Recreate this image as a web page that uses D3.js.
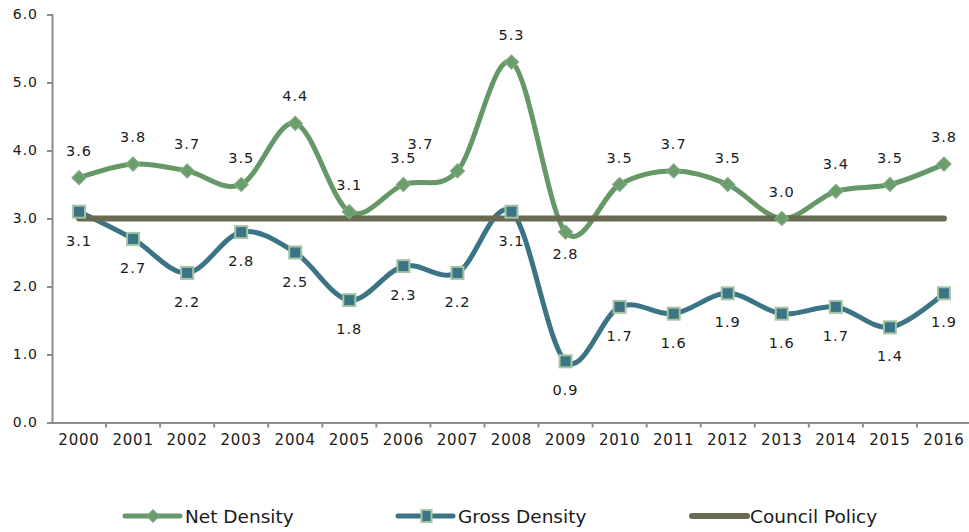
<!DOCTYPE html>
<html>
<head>
<meta charset="utf-8">
<script src="https://cdn.jsdelivr.net/npm/d3@7"></script>
<style>
  html, body { margin: 0; padding: 0; background: #ffffff; }
  svg { display: block; }
  .tick text { font-family: "DejaVu Sans", Verdana, sans-serif; }
</style>
</head>
<body>
<svg id="chart" width="969" height="532"></svg>
<script>
// Density per year (dwellings per hectare style measures)
const years = ["2000","2001","2002","2003","2004","2005","2006","2007","2008",
               "2009","2010","2011","2012","2013","2014","2015","2016"];
const netDensity   = [3.6, 3.8, 3.7, 3.5, 4.4, 3.1, 3.5, 3.7, 5.3, 2.8, 3.5, 3.7, 3.5, 3.0, 3.4, 3.5, 3.8];
const grossDensity = [3.1, 2.7, 2.2, 2.8, 2.5, 1.8, 2.3, 2.2, 3.1, 0.9, 1.7, 1.6, 1.9, 1.6, 1.7, 1.4, 1.9];
const councilPolicy = 3.0;
const yTicks = [0, 1, 2, 3, 4, 5, 6];

const seriesNames = ["Net Density", "Gross Density", "Council Policy"];

const colors = {
  net: "#659767", netMarker: "#6c9d6d", netMarkerEdge: "#80ab80",
  gross: "#3b7484", grossMarker: "#3a7485", grossMarkerEdge: "#a4c4a2",
  policy: "#686a52", axis: "#8c8c8c", text: "#1a1a1a"
};

const svg = d3.select("#chart");
const plot = { left: 52, right: 971, top: 14.5, bottom: 422.5 };

const x = d3.scaleBand().domain(years).range([plot.left, plot.right]);
const y = d3.scaleLinear().domain([0, 6]).range([plot.bottom, plot.top]);
const cx = d => x(d) + x.bandwidth() / 2;

// Y axis
const yAxis = svg.append("g")
  .attr("transform", `translate(${plot.left},0)`)
  .call(d3.axisLeft(y).tickValues(yTicks).tickFormat(d3.format(".1f")).tickSize(5).tickPadding(9));
yAxis.select(".domain").attr("stroke", colors.axis).attr("stroke-width", 2);
yAxis.selectAll(".tick line").attr("stroke", colors.axis).attr("stroke-width", 2);
yAxis.selectAll(".tick text").attr("font-size", 14).attr("letter-spacing", 1).attr("fill", colors.text);

// X axis with ticks between categories
const xAxis = svg.append("g")
  .attr("transform", `translate(0,${plot.bottom})`)
  .call(d3.axisBottom(x).tickSize(0).tickPadding(12));
xAxis.select(".domain").attr("stroke", colors.axis).attr("stroke-width", 2);
xAxis.selectAll(".tick text").attr("font-size", 15).attr("letter-spacing", 0.8).attr("fill", colors.text);
xAxis.selectAll(".sep").data(years.slice(1)).join("line")
  .attr("class", "sep")
  .attr("x1", d => x(d)).attr("x2", d => x(d))
  .attr("y1", 0).attr("y2", 5)
  .attr("stroke", colors.axis).attr("stroke-width", 2);

const curve = d3.curveCardinal.tension(0);
const lineGen = values => d3.line()
  .x((d, i) => cx(years[i]))
  .y(d => y(d))
  .curve(curve)(values);

// Net density line
svg.append("path").attr("d", lineGen(netDensity))
  .attr("fill", "none").attr("stroke", colors.net).attr("stroke-width", 5);

// Gross density line
svg.append("path").attr("d", lineGen(grossDensity))
  .attr("fill", "none").attr("stroke", colors.gross).attr("stroke-width", 5);

// Council policy target
svg.append("line")
  .attr("x1", cx(years[0])).attr("x2", cx(years[years.length - 1]))
  .attr("y1", y(councilPolicy)).attr("y2", y(councilPolicy))
  .attr("stroke", colors.policy).attr("stroke-width", 6).attr("stroke-linecap", "round");

// Markers
const diamondPath = r => `M0,${-r}L${r},0L0,${r}L${-r},0Z`;
svg.append("g").selectAll("path").data(netDensity).join("path")
  .attr("d", diamondPath(7))
  .attr("transform", (d, i) => `translate(${cx(years[i])},${y(d)})`)
  .attr("fill", colors.netMarker).attr("stroke", colors.netMarkerEdge).attr("stroke-width", 1.2);

svg.append("g").selectAll("rect").data(grossDensity).join("rect")
  .attr("x", (d, i) => cx(years[i]) - 6).attr("y", d => y(d) - 6)
  .attr("width", 12).attr("height", 12)
  .attr("fill", colors.grossMarker).attr("stroke", colors.grossMarkerEdge).attr("stroke-width", 2);

// Value labels
const fmt = d3.format(".1f");
const labelFont = "DejaVu Sans, Verdana, sans-serif";
// Net labels sit above the point, except where the point dips below the policy line
svg.append("g").selectAll("text").data(netDensity).join("text")
  .attr("x", (d, i) => cx(years[i]) - (i === 7 ? 37 : 0))
  .attr("y", (d, i) => d < councilPolicy ? y(d) + 27 : y(d) - 22)
  .attr("text-anchor", "middle")
  .attr("font-family", labelFont).attr("font-size", 14.5).attr("letter-spacing", 1)
  .attr("fill", colors.text)
  .text(d => fmt(d));

svg.append("g").selectAll("text").data(grossDensity).join("text")
  .attr("x", (d, i) => cx(years[i]))
  .attr("y", d => y(d) + 34)
  .attr("text-anchor", "middle")
  .attr("font-family", labelFont).attr("font-size", 14.5).attr("letter-spacing", 1)
  .attr("fill", colors.text)
  .text(d => fmt(d));

// Legend
const legendY = 516;
const legendX = [125, 398, 692];
const legend = svg.append("g");
seriesNames.forEach((name, i) => {
  const g = legend.append("g").attr("transform", `translate(${legendX[i]},${legendY})`);
  const stroke = [colors.net, colors.gross, colors.policy][i];
  g.append("line").attr("x1", 0).attr("x2", 55).attr("y1", 0).attr("y2", 0)
    .attr("stroke", stroke).attr("stroke-width", i === 2 ? 6 : 5).attr("stroke-linecap", "round");
  if (i === 0) {
    g.append("path").attr("d", diamondPath(6.5)).attr("transform", "translate(28,0)")
      .attr("fill", colors.netMarker).attr("stroke", colors.netMarkerEdge).attr("stroke-width", 1);
  } else if (i === 1) {
    g.append("rect").attr("x", 23.5).attr("y", -6).attr("width", 10).attr("height", 12)
      .attr("fill", colors.grossMarker).attr("stroke", colors.grossMarkerEdge).attr("stroke-width", 2);
  }
  g.append("text").attr("x", i === 2 ? 58 : 60).attr("y", 6.5)
    .attr("font-family", "DejaVu Sans, Verdana, sans-serif")
    .attr("font-size", 18.5).attr("fill", colors.text)
    .text(name);
});
</script>
</body>
</html>
